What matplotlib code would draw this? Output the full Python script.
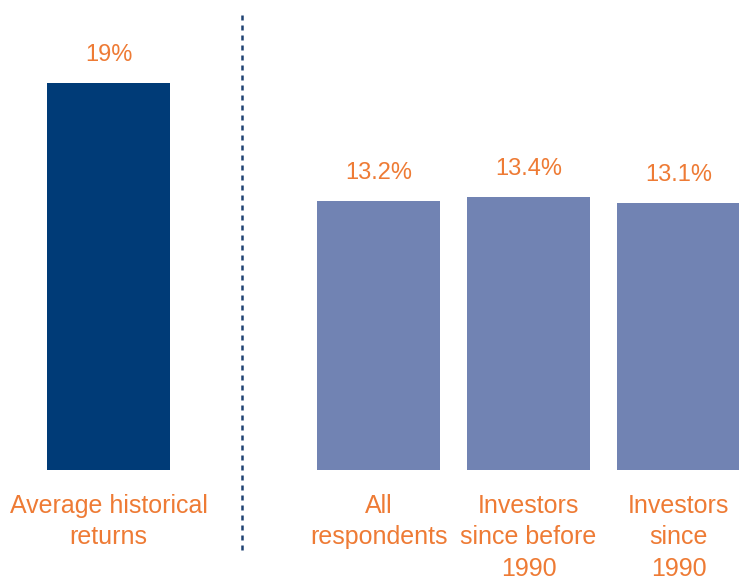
import matplotlib.pyplot as plt
from matplotlib.lines import Line2D

# Retornos médios (%)
categorias = ["Average historical\nreturns", "All\nrespondents",
              "Investors\nsince before\n1990", "Investors\nsince\n1990"]
valores = [19.0, 13.2, 13.4, 13.1]
rotulos = ["19%", "13.2%", "13.4%", "13.1%"]
posicoes = [0, 1.8, 2.8, 3.8]

azul_escuro = "#003B77"
azul_claro = "#7183B3"
laranja = "#EE7B35"

plt.rcParams['font.family'] = ['Liberation Sans', 'DejaVu Sans']

fig = plt.figure(figsize=(7.39, 5.77), dpi=100)
ax = fig.add_axes([0, 107 / 577, 1, 407 / 577])

cores = [azul_escuro] + [azul_claro] * 3
barras = ax.bar(posicoes, valores, width=0.82, color=cores)

# Rótulos de valor acima das barras
for barra, rotulo in zip(barras, rotulos):
    ax.annotate(rotulo, (barra.get_x() + barra.get_width() / 2, barra.get_height()),
                xytext=(0, 16), textcoords='offset points', ha='center',
                va='baseline', fontsize=17, color=laranja)

ax.set_xlim(-0.723, 4.203)
ax.set_ylim(0, 20)
ax.set_xticks(posicoes)
ax.set_xticklabels(categorias, fontsize=18, color=laranja, linespacing=1.4)
ax.tick_params(axis='x', length=0, pad=17)
ax.set_yticks([])
for spine in ax.spines.values():
    spine.set_visible(False)

# Linha pontilhada separando as colunas
x_div = 242 / 739
fig.add_artist(Line2D([x_div, x_div], [1 - 15 / 577, 1 - 550 / 577],
                      transform=fig.transFigure, color="#1F4273",
                      linewidth=1.8, linestyle=(0, (2, 2))))

plt.savefig('out.png', dpi=100)
